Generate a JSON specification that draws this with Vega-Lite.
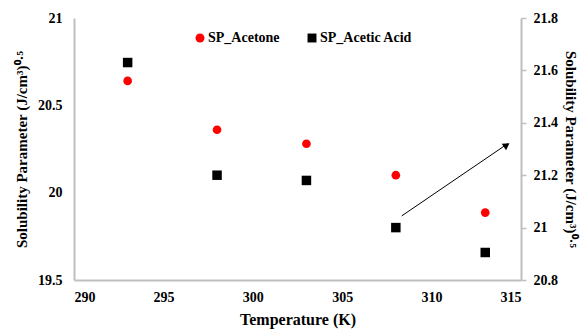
{
  "$schema": "https://vega.github.io/schema/vega-lite/v6.json",
  "width": 447,
  "height": 262,
  "autosize": {"type": "none"},
  "padding": {"left": 74, "top": 18, "right": 59, "bottom": 49},
  "background": "white",
  "config": {
    "view": {"stroke": null},
    "font": "Liberation Serif",
    "axis": {"labelFont": "Liberation Serif", "titleFont": "Liberation Serif", "labelFontWeight": "bold", "titleFontWeight": "bold", "labelColor": "black", "titleColor": "black", "grid": false, "domainColor": "#bfbfbf", "domainWidth": 2, "tickColor": "#bfbfbf", "labelFontSize": 14, "titleFontSize": 15},
    "legend": {"labelFont": "Liberation Serif", "labelFontWeight": "bold", "labelFontSize": 14, "labelColor": "black"}
  },
  "datasets": {
    "pts": [
      {"T": 293, "sp": 20.64, "series": "SP_Acetone"},
      {"T": 298, "sp": 20.36, "series": "SP_Acetone"},
      {"T": 303, "sp": 20.28, "series": "SP_Acetone"},
      {"T": 308, "sp": 20.10, "series": "SP_Acetone"},
      {"T": 313, "sp": 19.886, "series": "SP_Acetone"},
      {"T": 293, "sp": 21.63, "series": "SP_Acetic Acid"},
      {"T": 298, "sp": 21.20, "series": "SP_Acetic Acid"},
      {"T": 303, "sp": 21.18, "series": "SP_Acetic Acid"},
      {"T": 308, "sp": 21.00, "series": "SP_Acetic Acid"},
      {"T": 313, "sp": 20.905, "series": "SP_Acetic Acid"}
    ],
    "arrow": [{"x": 308.33, "y": 19.867, "x2": 314.25, "y2": 20.28}],
    "head": [{"x": 314.2, "y": 20.272}]
  },
  "encoding": {
    "x": {"field": "T", "type": "quantitative", "scale": {"domain": [290, 315], "nice": false, "zero": false},
      "axis": {"values": [290, 295, 300, 305, 310, 315], "ticks": false, "labelPadding": 10, "title": "Temperature (K)", "titleFontSize": 16, "titlePadding": 7, "labelExpr": "'' + datum.value"}}
  },
  "layer": [
    {
      "layer": [
        {
          "data": {"name": "pts"},
          "transform": [{"filter": "datum.series === 'SP_Acetone'"}],
          "mark": {"type": "point", "filled": true, "opacity": 1, "size": 75},
          "encoding": {
            "y": {"field": "sp", "type": "quantitative", "scale": {"domain": [19.5, 21], "nice": false, "zero": false},
              "axis": {"values": [19.5, 20, 20.5, 21], "ticks": false, "labelPadding": 12, "labelExpr": "'' + datum.value", "title": "Solubility Parameter (J/cm³)⁰·⁵", "titlePadding": 8}},
            "color": {"field": "series", "type": "nominal", "scale": {"domain": ["SP_Acetone", "SP_Acetic Acid"], "range": ["#ff0000", "#000000"]},
              "legend": {"title": null, "orient": "none", "legendX": 119, "legendY": 13, "direction": "horizontal", "symbolSize": 80, "symbolStrokeWidth": 0, "labelOffset": 1, "columnPadding": 25, "padding": 0}},
            "shape": {"field": "series", "type": "nominal", "scale": {"domain": ["SP_Acetone", "SP_Acetic Acid"], "range": ["circle", "square"]},
              "legend": {"title": null, "orient": "none", "legendX": 119, "legendY": 13, "direction": "horizontal", "symbolSize": 80, "symbolStrokeWidth": 0, "labelOffset": 1, "columnPadding": 25, "padding": 0}}
          }
        },
        {
          "data": {"values": [{}]},
          "mark": {"type": "rule", "color": "black", "strokeWidth": 2},
          "encoding": {"y": {"datum": 21}}
        },
        {
          "data": {"name": "arrow"},
          "mark": {"type": "rule", "color": "black", "strokeWidth": 1},
          "encoding": {
            "x": {"field": "x", "type": "quantitative"},
            "x2": {"field": "x2"},
            "y": {"field": "y", "type": "quantitative"},
            "y2": {"field": "y2"}
          }
        },
        {
          "data": {"name": "head"},
          "mark": {"type": "point", "shape": "triangle-up", "filled": true, "color": "black", "opacity": 1, "size": 60, "angle": 56},
          "encoding": {
            "x": {"field": "x", "type": "quantitative"},
            "y": {"field": "y", "type": "quantitative"}
          }
        }
      ]
    },
    {
      "data": {"name": "pts"},
      "transform": [{"filter": "datum.series === 'SP_Acetic Acid'"}],
      "mark": {"type": "point", "filled": true, "opacity": 1, "size": 90},
      "encoding": {
        "y": {"field": "sp", "type": "quantitative", "scale": {"domain": [20.8, 21.8], "nice": false, "zero": false},
          "axis": {"orient": "right", "values": [20.8, 21, 21.2, 21.4, 21.6, 21.8], "tickSize": 5, "tickWidth": 1.5, "labelPadding": 7, "labelExpr": "'' + datum.value", "title": "Solubility Parameter (J/cm³)⁰·⁵", "titlePadding": 5}},
        "color": {"field": "series", "type": "nominal"},
        "shape": {"field": "series", "type": "nominal"}
      }
    }
  ],
  "resolve": {"scale": {"y": "independent"}}
}
